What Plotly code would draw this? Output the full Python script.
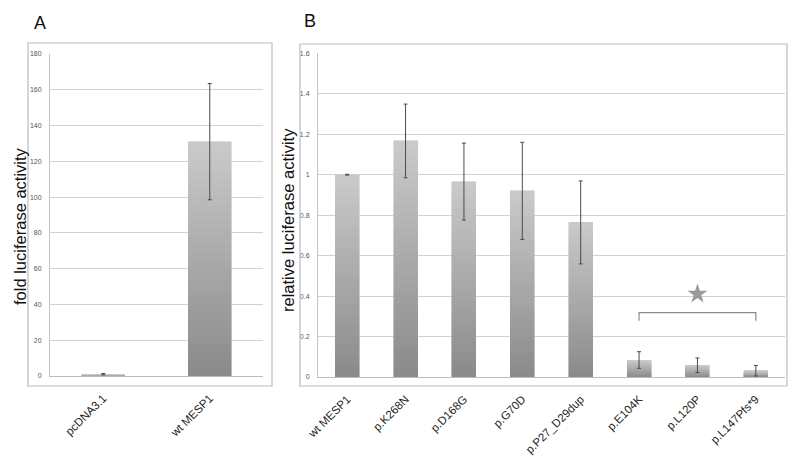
import plotly.graph_objects as go

# ---- data ----
cats_a = ["pcDNA3.1", "wt MESP1"]
vals_a = [1.0, 131.0]
err_a = [0.4, 32.5]
ticks_a = [0, 20, 40, 60, 80, 100, 120, 140, 160, 180]
ticklabels_a = ["0", "20", "40", "60", "80", "100", "120", "140", "160", "180"]

cats_b = ["wt MESP1", "p.K268N", "p.D168G", "p.G70D", "p.P27_D29dup",
          "p.E104K", "p.L120P", "p.L147Pfs*9"]
vals_b = [1.0, 1.167, 0.966, 0.920, 0.764, 0.084, 0.058, 0.031]
err_b = [0.002, 0.182, 0.190, 0.240, 0.205, 0.041, 0.036, 0.026]
ticks_b = [0, 0.2, 0.4, 0.6, 0.8, 1.0, 1.2, 1.4, 1.6]
ticklabels_b = ["0", "0.2", "0.4", "0.6", "0.8", "1", "1.2", "1.4", "1.6"]

bracket_cats = ["p.E104K", "p.E104K", "p.L147Pfs*9", "p.L147Pfs*9"]
bracket_y = [0.278, 0.318, 0.318, 0.278]
star_cat = ["p.L120P"]
star_y = [0.41]

# ---- styling ----
N = 30
dark = (138, 138, 138)
light = (202, 202, 202)


def seg_color(k):
    t = (k + 0.5) / N
    c = [round(dark[i] + (light[i] - dark[i]) * t) for i in range(3)]
    return "rgb(%d,%d,%d)" % tuple(c)


fig = go.Figure()


def add_bars(cats, vals, errs, xa, ya, width):
    for k in range(N):
        fig.add_trace(go.Bar(
            x=cats, y=[v / N for v in vals], xaxis=xa, yaxis=ya,
            marker=dict(color=seg_color(k), line=dict(width=0.6, color=seg_color(k))),
            width=width, showlegend=False, hoverinfo="skip"))
    fig.add_trace(go.Scatter(
        x=cats, y=vals, xaxis=xa, yaxis=ya, mode="markers",
        marker=dict(size=1, opacity=0),
        error_y=dict(type="data", array=errs, visible=True,
                     color="#4a4a4a", thickness=1, width=2),
        showlegend=False, hoverinfo="skip"))


add_bars(cats_a, vals_a, err_a, "x", "y", 0.4)
add_bars(cats_b, vals_b, err_b, "x2", "y2", 0.41)

fig.add_trace(go.Scatter(
    x=bracket_cats, y=bracket_y, xaxis="x2", yaxis="y2", mode="lines",
    line=dict(color="#8a8a8a", width=1.2), showlegend=False, hoverinfo="skip"))
fig.add_trace(go.Scatter(
    x=star_cat, y=star_y, xaxis="x2", yaxis="y2", mode="markers",
    marker=dict(symbol="star", size=15, color="#9a9a9a", line=dict(width=0)),
    showlegend=False, hoverinfo="skip"))

W, H = 800, 465
FONT = "Liberation Sans, Arial"

axis_common = dict(
    showgrid=False, zeroline=False, showline=True, linecolor="#bdbdbd",
    linewidth=1, ticks="", tickangle=-45, automargin=False,
    tickfont=dict(family=FONT, size=11.5, color="#222"),
    ticklabelstandoff=10)
yaxis_common = dict(
    showgrid=True, gridcolor="#d2d2d2", gridwidth=1, zeroline=False,
    showline=True, linecolor="#c4c4c4", linewidth=1, ticks="", automargin=False,
    tickfont=dict(family=FONT, size=7, color="#555"),
    ticklabelstandoff=6)


def label(text, x, y, size, angle=0):
    return dict(text=text, x=x / W, y=1 - y / H, xref="paper", yref="paper",
                xanchor="center", yanchor="middle", showarrow=False,
                textangle=angle, font=dict(family=FONT, size=size, color="#111"))


fig.update_layout(
    width=W, height=H, margin=dict(l=0, r=0, t=0, b=0, autoexpand=False),
    paper_bgcolor="white", plot_bgcolor="white",
    barmode="stack", bargap=0.6,
    xaxis=dict(domain=[50 / W, 263 / W], anchor="y", **axis_common),
    yaxis=dict(domain=[1 - 376 / H, 1 - 54 / H], anchor="x", range=[0, 180],
               tickvals=ticks_a, ticktext=ticklabels_a, **yaxis_common),
    xaxis2=dict(domain=[318 / W, 785 / W], anchor="y2", **axis_common),
    yaxis2=dict(domain=[1 - 377 / H, 1 - 53.3 / H], anchor="x2", range=[0, 1.6],
                tickvals=ticks_b, ticktext=ticklabels_b, **yaxis_common),
    shapes=[
        dict(type="rect", xref="paper", yref="paper",
             x0=28 / W, x1=272 / W, y0=1 - 386 / H, y1=1 - 43 / H,
             line=dict(color="#bcbcbc", width=1.2)),
        dict(type="rect", xref="paper", yref="paper",
             x0=300 / W, x1=787 / W, y0=1 - 386 / H, y1=1 - 44 / H,
             line=dict(color="#bcbcbc", width=1.2)),
    ],
    annotations=[
        label("A", 40, 23, 18),
        label("B", 310, 21, 18),
        label("fold luciferase activity", 20, 226, 16.5, -90),
        label("relative luciferase activity", 288, 220, 16.5, -90),
    ],
)

fig.write_html(
    "out.html",
    config={"displayModeBar": False},
    post_script="document.body.style.margin='0';document.body.style.padding='0';")
